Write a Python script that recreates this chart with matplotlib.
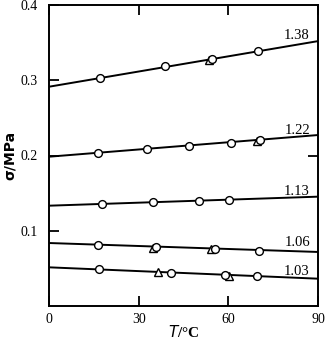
import matplotlib
matplotlib.use("Agg")
import matplotlib.pyplot as plt

# ---- data ----
ratios = ["1.38", "1.22", "1.13", "1.06", "1.03"]
line_T = [0, 90]
line_sigma = [
    [0.2914, 0.3520],
    [0.1984, 0.2272],
    [0.1333, 0.1453],
    [0.0837, 0.0718],
    [0.0514, 0.0363],
]
circle_T = [
    [17.1, 38.7, 54.5, 70.0],
    [16.3, 32.7, 46.8, 61.0, 70.7],
    [17.6, 34.9, 50.2, 60.2],
    [16.5, 35.7, 55.4, 70.1],
    [16.7, 40.9, 59.0, 69.6],
]
circle_sigma = [
    [0.3034, 0.3193, 0.3280, 0.3393],
    [0.2033, 0.2082, 0.2130, 0.2170, 0.2202],
    [0.1356, 0.1378, 0.1395, 0.1404],
    [0.0811, 0.0784, 0.0762, 0.0735],
    [0.0487, 0.0434, 0.0412, 0.0395],
]
tri_T = [[53.4], [69.5], [], [34.7, 54.1], [36.5, 60.2]]
tri_sigma = [[0.3270], [0.2188], [], [0.0775, 0.0753], [0.0456, 0.0399]]
label_T = 87.3
label_sigma = [0.3545, 0.2290, 0.1478, 0.0800, 0.0415]

x_ticks = [0, 30, 60, 90]
x_ticklabels = ["0", "30", "60", "90"]
y_ticks = [0.1, 0.2, 0.3, 0.4]
y_ticklabels = ["0.1", "0.2", "0.3", "0.4"]

# ---- figure ----
fig = plt.figure(figsize=(3.26, 3.42), dpi=100)
ax = fig.add_axes([49 / 326, 36 / 342, 269 / 326, 301 / 342])

serif = "Liberation Serif"
for i in range(len(ratios)):
    ax.plot(line_T, line_sigma[i], color="black", lw=1.4, zorder=2, solid_capstyle="butt")
    if tri_T[i]:
        ax.plot(tri_T[i], tri_sigma[i], linestyle="none", marker="^", ms=5.5,
                mfc="white", mec="black", mew=1.0, zorder=3)
    ax.plot(circle_T[i], circle_sigma[i], linestyle="none", marker="o", ms=5.6,
            mfc="white", mec="black", mew=1.0, zorder=4)
    ax.text(label_T, label_sigma[i], ratios[i], ha="right", va="baseline",
            fontsize=10.5, family=serif, color="black")

ax.set_xlim(0, 90)
ax.set_ylim(0, 0.4)

ax.set_xticks(x_ticks)
ax.set_xticklabels(x_ticklabels, family=serif, fontsize=10)
ax.set_yticks(y_ticks)
ax.set_yticklabels(y_ticklabels, family=serif, fontsize=10)
ax.tick_params(direction="in", length=7, width=1.3, top=True, right=False)
ax.tick_params(axis="x", pad=5)
ax.tick_params(axis="y", pad=8)

# right tick only at 0.2
axr = ax.secondary_yaxis("right")
axr.set_yticks([0.2])
axr.set_yticklabels([])
axr.tick_params(direction="in", length=7, width=1.3)
axr.spines["right"].set_visible(False)

for sp in ax.spines.values():
    sp.set_linewidth(1.4)

ax.set_xlabel(r"$\mathbf{\mathit{T}}$/°C", fontsize=11, fontweight="bold", family=serif)
ax.xaxis.set_label_coords(0.5, -0.06)
ax.xaxis.label.set_va("top")
ax.text(-0.145, 0.5, "σ/MPa", transform=ax.transAxes, rotation=90, ha="center", va="center",
        fontsize=10, fontweight="bold", family="DejaVu Sans")

fig.savefig("out.png", dpi=100)
